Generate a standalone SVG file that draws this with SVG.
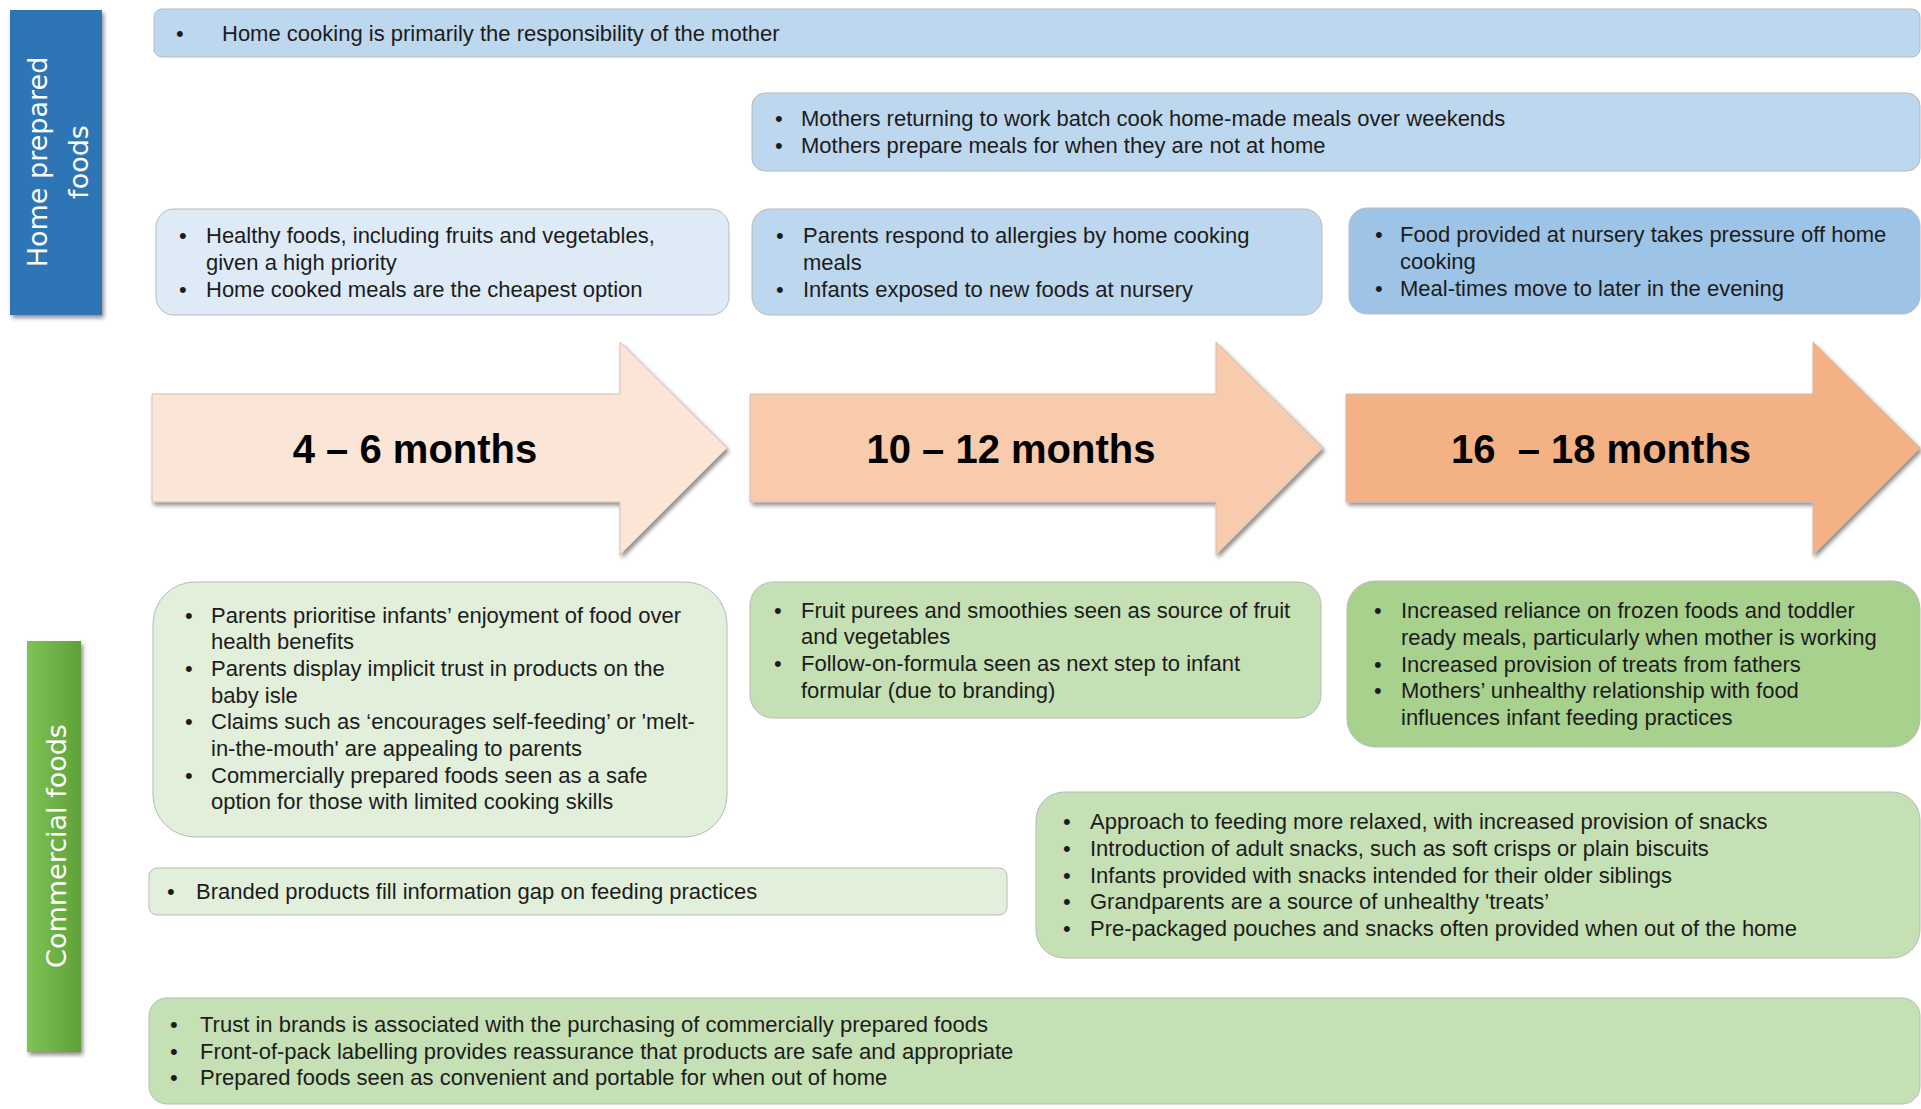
<svg xmlns="http://www.w3.org/2000/svg" width="1921" height="1109" viewBox="0 0 1921 1109">
<defs>
<style>
.t{font-family:"Liberation Sans",Arial,sans-serif;font-size:22px;fill:#1c1c1c}
.box{stroke:#b9b9b9;stroke-width:1}
.stage{font-family:"Liberation Sans",Arial,sans-serif;font-size:40px;font-weight:bold;fill:#000;text-anchor:middle}
.side{font-family:"DejaVu Sans","Liberation Sans",sans-serif;font-size:27px;fill:#fff;text-anchor:middle}
.arrow{stroke:#c8b8ae;stroke-width:0.8}
</style>
<filter id="sh" x="-10%" y="-10%" width="130%" height="130%">
<feGaussianBlur in="SourceAlpha" stdDeviation="2.2"/>
<feOffset dx="1.5" dy="3" result="b"/>
<feComponentTransfer><feFuncA type="linear" slope="0.45"/></feComponentTransfer>
<feMerge><feMergeNode/><feMergeNode in="SourceGraphic"/></feMerge>
</filter>
<linearGradient id="grn" x1="0" y1="0" x2="1" y2="0">
<stop offset="0" stop-color="#7fc256"/>
<stop offset="1" stop-color="#5ea137"/>
</linearGradient>
</defs>
<rect width="1921" height="1109" fill="#fff"/>

<g id="home-prepared-label">
<rect x="10" y="10" width="92" height="305" fill="#2e75b6" filter="url(#sh)"/>
<text class="side" transform="translate(47,162) rotate(-90)">Home prepared</text>
<text class="side" transform="translate(88,162) rotate(-90)">foods</text>
</g>

<g id="commercial-label">
<rect x="27" y="641" width="54" height="411" fill="url(#grn)" filter="url(#sh)"/>
<text class="side" transform="translate(66,846) rotate(-90)">Commercial foods</text>
</g>

<g id="home-cooking-mother">
<rect class="box" x="154" y="9" width="1766" height="48" rx="8" fill="#bdd7ee"/>
<text class="t" x="176" y="40.5">•</text>
<text class="t" x="222" y="40.5">Home cooking is primarily the responsibility of the mother</text>
</g>

<g id="mothers-returning-work">
<rect class="box" x="752" y="93" width="1168" height="78" rx="13" fill="#bdd7ee"/>
<text class="t" x="775" y="125.5">•</text>
<text class="t" x="801" y="125.5">Mothers returning to work batch cook home-made meals over weekends</text>
<text class="t" x="775" y="152.5">•</text>
<text class="t" x="801" y="152.5">Mothers prepare meals for when they are not at home</text>
</g>

<g id="home-4-6">
<rect class="box" x="156" y="209" width="573" height="106" rx="18" fill="#deebf7"/>
<text class="t" x="179" y="242.5">•</text>
<text class="t" x="206" y="242.5">Healthy foods, including fruits and vegetables,</text>
<text class="t" x="206" y="269.5">given a high priority</text>
<text class="t" x="179" y="296.5">•</text>
<text class="t" x="206" y="296.5">Home cooked meals are the cheapest option</text>
</g>

<g id="home-10-12">
<rect class="box" x="752" y="209" width="570" height="106" rx="18" fill="#bdd7ee"/>
<text class="t" x="776" y="242.5">•</text>
<text class="t" x="803" y="242.5">Parents respond to allergies by home cooking</text>
<text class="t" x="803" y="269.5">meals</text>
<text class="t" x="776" y="296.5">•</text>
<text class="t" x="803" y="296.5">Infants exposed to new foods at nursery</text>
</g>

<g id="home-16-18">
<rect class="box" x="1349" y="208" width="571" height="106" rx="18" fill="#9dc3e6"/>
<text class="t" x="1375" y="241.5">•</text>
<text class="t" x="1400" y="241.5">Food provided at nursery takes pressure off home</text>
<text class="t" x="1400" y="268.5">cooking</text>
<text class="t" x="1375" y="295.5">•</text>
<text class="t" x="1400" y="295.5">Meal-times move to later in the evening</text>
</g>

<g id="stage-4-6">
<polygon class="arrow" points="152,394 620,394 620,342 727,448 620,555 620,502 152,502" fill="#fbe5d6" filter="url(#sh)"/>
<text class="stage" x="415" y="463">4 – 6 months</text>
</g>

<g id="stage-10-12">
<polygon class="arrow" points="750,394 1216,394 1216,342 1323,448 1216,555 1216,502 750,502" fill="#f8cbad" filter="url(#sh)"/>
<text class="stage" x="1011" y="463">10 – 12 months</text>
</g>

<g id="stage-16-18">
<polygon class="arrow" points="1346,394 1813,394 1813,342 1920,448 1813,555 1813,502 1346,502" fill="#f4b183" filter="url(#sh)"/>
<text class="stage" x="1601" y="463" xml:space="preserve">16  – 18 months</text>
</g>

<g id="commercial-4-6">
<rect class="box" x="153" y="582" width="574" height="255" rx="42" fill="#e2efda"/>
<text class="t" x="185" y="622.5">•</text>
<text class="t" x="211" y="622.5">Parents prioritise infants’ enjoyment of food over</text>
<text class="t" x="211" y="649.2">health benefits</text>
<text class="t" x="185" y="675.9">•</text>
<text class="t" x="211" y="675.9">Parents display implicit trust in products on the</text>
<text class="t" x="211" y="702.6">baby isle</text>
<text class="t" x="185" y="729.3">•</text>
<text class="t" x="211" y="729.3">Claims such as ‘encourages self-feeding’ or 'melt-</text>
<text class="t" x="211" y="756">in-the-mouth' are appealing to parents</text>
<text class="t" x="185" y="782.7">•</text>
<text class="t" x="211" y="782.7">Commercially prepared foods seen as a safe</text>
<text class="t" x="211" y="809.4">option for those with limited cooking skills</text>
</g>

<g id="commercial-10-12">
<rect class="box" x="750" y="582" width="571" height="136" rx="23" fill="#c5e0b4"/>
<text class="t" x="774" y="617.5">•</text>
<text class="t" x="801" y="617.5">Fruit purees and smoothies seen as source of fruit</text>
<text class="t" x="801" y="644.2">and vegetables</text>
<text class="t" x="774" y="670.9">•</text>
<text class="t" x="801" y="670.9">Follow-on-formula seen as next step to infant</text>
<text class="t" x="801" y="697.6">formular (due to branding)</text>
</g>

<g id="commercial-16-18">
<rect class="box" x="1347" y="581" width="573" height="166" rx="28" fill="#a9d18e"/>
<text class="t" x="1374" y="618.1">•</text>
<text class="t" x="1401" y="618.1">Increased reliance on frozen foods and toddler</text>
<text class="t" x="1401" y="644.8">ready meals, particularly when mother is working</text>
<text class="t" x="1374" y="671.5">•</text>
<text class="t" x="1401" y="671.5">Increased provision of treats from fathers</text>
<text class="t" x="1374" y="698.2">•</text>
<text class="t" x="1401" y="698.2">Mothers’ unhealthy relationship with food</text>
<text class="t" x="1401" y="724.9">influences infant feeding practices</text>
</g>

<g id="branded-products">
<rect class="box" x="149" y="868" width="858" height="47" rx="8" fill="#e2efda"/>
<text class="t" x="167" y="898.5">•</text>
<text class="t" x="196" y="898.5">Branded products fill information gap on feeding practices</text>
</g>

<g id="snacks">
<rect class="box" x="1036" y="792" width="884" height="166" rx="28" fill="#c5e0b4"/>
<text class="t" x="1063" y="829.1">•</text>
<text class="t" x="1090" y="829.1">Approach to feeding more relaxed, with increased provision of snacks</text>
<text class="t" x="1063" y="855.8">•</text>
<text class="t" x="1090" y="855.8">Introduction of adult snacks, such as soft crisps or plain biscuits</text>
<text class="t" x="1063" y="882.5">•</text>
<text class="t" x="1090" y="882.5">Infants provided with snacks intended for their older siblings</text>
<text class="t" x="1063" y="909.2">•</text>
<text class="t" x="1090" y="909.2">Grandparents are a source of unhealthy 'treats’</text>
<text class="t" x="1063" y="935.9">•</text>
<text class="t" x="1090" y="935.9">Pre-packaged pouches and snacks often provided when out of the home</text>
</g>

<g id="brand-trust">
<rect class="box" x="149" y="998" width="1771" height="106" rx="18" fill="#c5e0b4"/>
<text class="t" x="170" y="1031.8">•</text>
<text class="t" x="200" y="1031.8">Trust in brands is associated with the purchasing of commercially prepared foods</text>
<text class="t" x="170" y="1058.5">•</text>
<text class="t" x="200" y="1058.5">Front-of-pack labelling provides reassurance that products are safe and appropriate</text>
<text class="t" x="170" y="1085.2">•</text>
<text class="t" x="200" y="1085.2">Prepared foods seen as convenient and portable for when out of home</text>
</g>

<g id="connectors"></g>
</svg>
